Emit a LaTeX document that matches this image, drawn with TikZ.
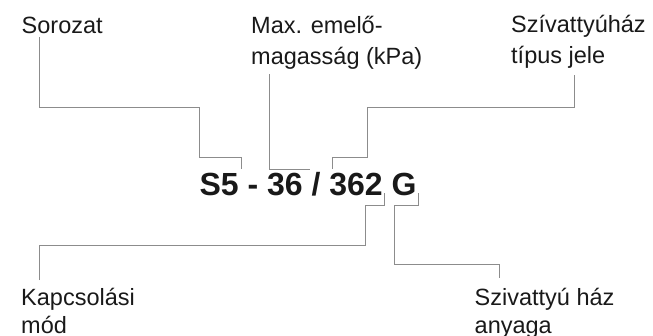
\documentclass[tikz,border=0pt]{standalone}
\usepackage{fontspec}
\setmainfont{Liberation Sans}
\definecolor{lead}{RGB}{140,140,140}
\definecolor{ink}{RGB}{25,25,25}
\tikzset{
  lbl/.style={anchor=base west, inner sep=0pt, text=ink, font=\fontsize{23.5}{31}\selectfont},
  lblb/.style={anchor=base west, inner sep=0pt, text=ink, font=\fontsize{23.5}{27.5}\selectfont},
  code/.style={anchor=base west, inner sep=0pt, text=ink, font=\fontsize{32}{36}\selectfont\bfseries},
  leader/.style={draw=lead, line width=0.9pt}
}
\begin{document}
\begin{tikzpicture}[x=1pt,y=-1pt]
\useasboundingbox (0,0) rectangle (653,335);
% labels
\node[lbl] (sor) at (21.5,33) {Sorozat};
\node[lbl] (max) at (251,33.3) {\begin{tabular}[t]{@{}l@{}}Max. emelő-\\magasság (kPa)\end{tabular}};
\node[lbl] (tip) at (511,32.7) {\begin{tabular}[t]{@{}l@{}}Szívattyúház\\típus jele\end{tabular}};
\node[lblb] (kap) at (21,305.5) {\begin{tabular}[t]{@{}l@{}}Kapcsolási\\mód\end{tabular}};
\node[lblb] (any) at (474.5,305.5) {\begin{tabular}[t]{@{}l@{}}Szivattyú ház\\anyaga\end{tabular}};
\node[code] (code) at (199.3,195.7) {S5 - 36 / 362 G};
% leader end points
\coordinate (a0) at (39.3,37);   \coordinate (a1) at (199.3,157.3); \coordinate (a2) at (241.3,169.3);
\coordinate (b0) at (269.3,74);  \coordinate (b1) at (310,169.3);
\coordinate (c0) at (574,75);    \coordinate (c1) at (367.5,157.3); \coordinate (c2) at (332.7,169.3);
\coordinate (d0) at (39.3,280);  \coordinate (d1) at (365.5,205.3); \coordinate (d2) at (384.7,193.3);
\coordinate (e0) at (499.7,277.7); \coordinate (e1) at (394,205.3); \coordinate (e2) at (418.7,193.3);
% leaders
\draw[leader] (a0) |- (199.3,107.3) -- (a1) -| (a2);
\draw[leader] (b0) |- (b1);
\draw[leader] (c0) |- (367.5,107.3) -- (c1) -| (c2);
\draw[leader] (d0) |- (365.5,245.5) -- (d1) -| (d2);
\draw[leader] (e0) |- (394,264.3) -- (e1) -| (e2);
\end{tikzpicture}
\end{document}
